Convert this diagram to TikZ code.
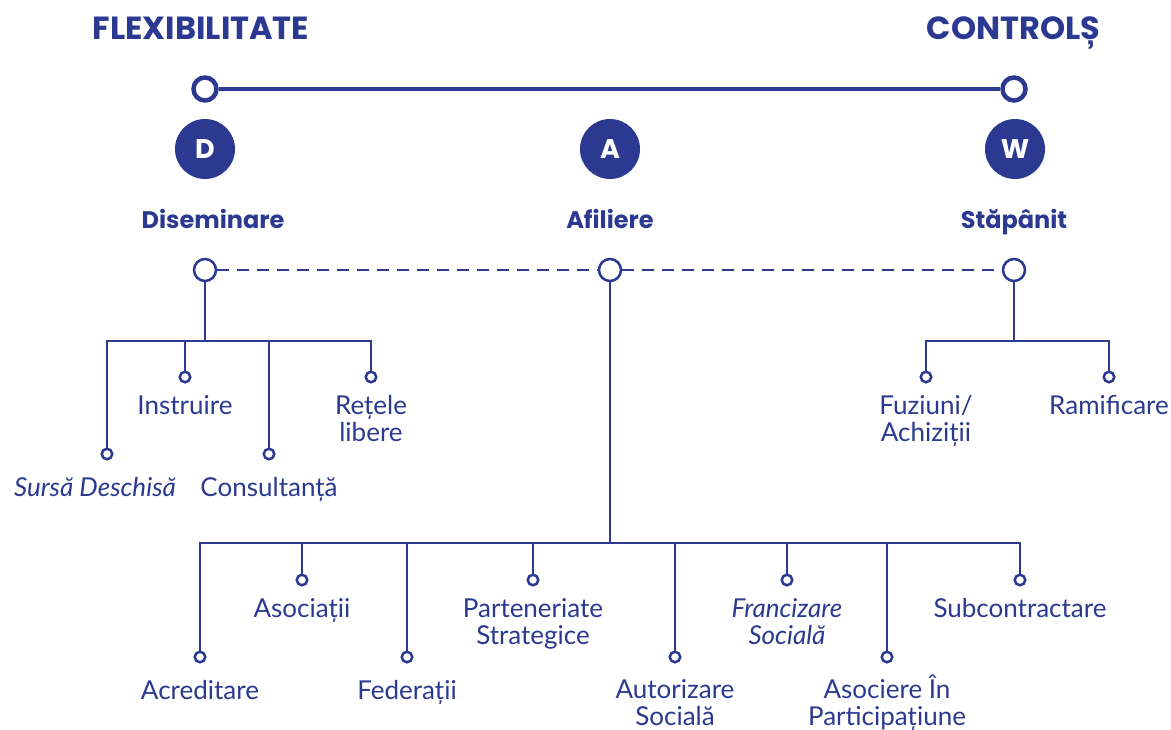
\documentclass[tikz,border=0pt]{standalone}
\usepackage{fontspec}
\setmainfont{Lato}
\newfontfamily\headfont{Poppins}
\definecolor{navy}{RGB}{43,57,144}
\begin{document}
\begin{tikzpicture}[x=1pt,y=-1pt,
  bar/.style={draw=navy,line width=4.5pt},
  ring/.style={circle,draw=navy,fill=white,line width=4.5pt,minimum size=23pt,inner sep=0pt},
  badge/.style={circle,fill=navy,minimum size=60pt,inner sep=0pt,text=white,
    font=\headfont\bfseries\fontsize{27}{30}\selectfont},
  hub/.style={circle,draw=navy,fill=white,line width=2.5pt,minimum size=22pt,inner sep=0pt},
  leaf/.style={circle,draw=navy,fill=white,line width=2.5pt,minimum size=10.5pt,inner sep=0pt},
  link/.style={draw=navy,line width=2.5pt},
  dashlink/.style={draw=navy,line width=2.5pt,dash pattern=on 12pt off 8pt},
  lbl/.style={anchor=base,align=center,text=navy,inner sep=0pt,font=\fontsize{26}{27}\selectfont},
  ilbl/.style={lbl,font=\itshape\fontsize{26}{27}\selectfont},
  title/.style={anchor=base,text=navy,inner sep=0pt,font=\headfont\bfseries\fontsize{32}{36}\selectfont},
  head/.style={anchor=base,text=navy,inner sep=0pt,font=\headfont\bfseries\fontsize{24}{28}\selectfont}]
\useasboundingbox (0,0) rectangle (1171,729);

% scale between flexibility and control
\node[title] (tFlex) at (201,39) {FLEXIBILITATE};
\node[title] (tCtrl) at (1014,39) {CONTROLȘ};
\node[ring] (sL) at (205,89) {};
\node[ring] (sR) at (1014,89) {};
\draw[bar] (sL) -- (sR);

% the three strategies
\node[badge] (bD) at (205,149) {D};
\node[badge] (bA) at (610,149) {A};
\node[badge] (bW) at (1015,149) {W};
\node[head] (nD) at (213,228) {Diseminare};
\node[head] (nA) at (610,228) {Afiliere};
\node[head] (nW) at (1014,228) {Stăpânit};

\node[hub] (hD) at (205,270) {};
\node[hub] (hA) at (610,270) {};
\node[hub] (hW) at (1014,270) {};
\draw[dashlink] (hD) -- (hA);
\draw[dashlink] (hA) -- (hW);

% junctions of each tree
\coordinate (jD) at (205,341);
\coordinate (jW) at (1014,341);
\coordinate (jA) at (610,543);
\draw[link] (hD) -- (jD);
\draw[link] (hW) -- (jW);
\draw[link] (hA) -- (jA);

% dissemination (two-line labels are placed by their last baseline)
\node[leaf] (d1) at (107,454) {};
\node[leaf] (d2) at (185,377) {};
\node[leaf] (d3) at (269,454) {};
\node[leaf] (d4) at (371,377) {};
\foreach \n in {d1,d2,d3,d4} \draw[link] (jD) -| (\n);
\node[ilbl] (ld1) at (95,496) {Sursă Deschisă};
\node[lbl] (ld2) at (185,414) {Instruire};
\node[lbl] (ld3) at (269,496) {Consultanță};
\node[lbl] (ld4) at (371,441) {Rețele\\libere};

% wholly owned
\node[leaf] (w1) at (926,377) {};
\node[leaf] (w2) at (1109,377) {};
\foreach \n in {w1,w2} \draw[link] (jW) -| (\n);
\node[lbl] (lw1) at (926,441) {Fuziuni/\\Achiziții};
\node[lbl] (lw2) at (1109,414) {Ramificare};

% affiliation
\node[leaf] (a1) at (200,657) {};
\node[leaf] (a2) at (302,580) {};
\node[leaf] (a3) at (407,657) {};
\node[leaf] (a4) at (533,580) {};
\node[leaf] (a5) at (675,657) {};
\node[leaf] (a6) at (787,580) {};
\node[leaf] (a7) at (887,657) {};
\node[leaf] (a8) at (1020,580) {};
\foreach \n in {a1,a2,a3,a4,a5,a6,a7,a8} \draw[link] (jA) -| (\n);
\node[lbl] (la1) at (200,699) {Acreditare};
\node[lbl] (la2) at (302,617) {Asociații};
\node[lbl] (la3) at (407,699) {Federații};
\node[lbl] (la4) at (533,644) {Parteneriate\\Strategice};
\node[lbl] (la5) at (675,725) {Autorizare\\Socială};
\node[ilbl] (la6) at (787,644) {Francizare\\Socială};
\node[lbl] (la7) at (887,725) {Asociere În\\Participațiune};
\node[lbl] (la8) at (1020,617) {Subcontractare};
\end{tikzpicture}
\end{document}
